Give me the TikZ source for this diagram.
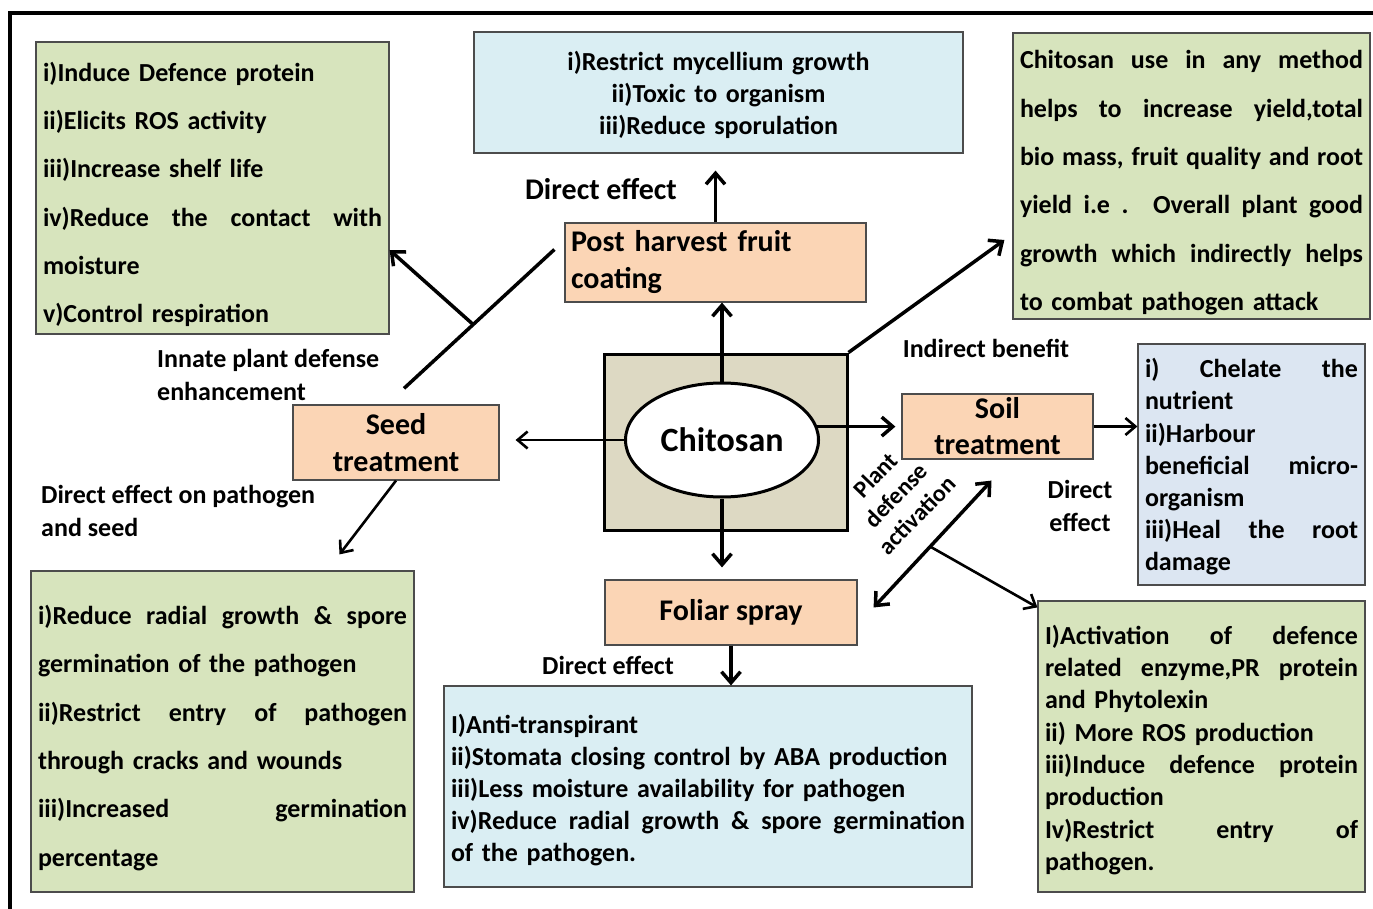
\documentclass[tikz,border=0pt]{standalone}
\usepackage{fontspec}
\setmainfont{Carlito}
\usepackage{xcolor}
\usetikzlibrary{shapes,arrows.meta,calc,positioning}
\setlength{\parindent}{0pt}

\definecolor{leafgreen}{RGB}{215,228,189}
\definecolor{skyblue}{RGB}{218,238,243}
\definecolor{steelblue}{RGB}{220,230,242}
\definecolor{peach}{RGB}{251,213,181}
\definecolor{khaki}{RGB}{221,217,195}

\newcommand{\spreadline}[1]{\makebox[\hsize][s]{\spaceskip=0pt\xspaceskip=0pt #1}}
\newcommand{\topstrut}[1]{\rule{0pt}{#1}}

\begin{document}
\begin{tikzpicture}[
    x=1pt, y=-1pt,
    effect/.style={rectangle, draw=black!70, line width=1.2pt, inner xsep=7pt, inner ysep=0pt},
    greenbox/.style={effect, fill=leafgreen, font=\fontsize{26}{48.3}\selectfont\bfseries},
    tightgreen/.style={effect, fill=leafgreen, font=\fontsize{26}{32.3}\selectfont\bfseries},
    skybox/.style={effect, fill=skyblue, font=\fontsize{26}{32}\selectfont\bfseries},
    steelbox/.style={effect, fill=steelblue, font=\fontsize{26}{32.2}\selectfont\bfseries},
    method/.style={rectangle, draw=black!70, line width=1.2pt, fill=peach, inner sep=0pt, align=center, font=\fontsize{30}{37}\selectfont\bfseries},
    core/.style={rectangle, draw, line width=3pt, fill=khaki, minimum width=243pt, minimum height=176pt},
    hub/.style={ellipse, draw, line width=3pt, fill=white, minimum width=193pt, minimum height=114pt, inner sep=0pt, font=\fontsize{34}{40}\selectfont\bfseries},
    note/.style={inner sep=0pt, font=\fontsize{26}{33}\selectfont\bfseries},
    arrow/.style={-{Straight Barb[length=11pt,width=19pt]}, line width=3.5pt},
    thinarrow/.style={-{Straight Barb[length=10pt,width=17pt]}, line width=2.6pt},
    both/.style={{Straight Barb[length=11pt,width=19pt]}-{Straight Barb[length=11pt,width=19pt]}, line width=3.5pt},
    plainline/.style={line width=3.5pt}
]
\useasboundingbox (0,0) rectangle (1373,909);

% outer frame
\draw[line width=4pt] (10,13) rectangle (1400,940);

% Chitosan core
\node[core] (core) at (725.5,442) {};
\node[hub] (chitosan) at (722,440) {Chitosan};

% Application methods
\node[method, minimum width=301pt, minimum height=79pt, text width=289pt, align=left] (harvest) at (715.5,262.5) {Post harvest fruit\\coating};
\node[method, minimum width=206pt, minimum height=75pt] (seed) at (396,442.5) {Seed\\treatment};
\node[method, minimum width=191pt, minimum height=65pt, font=\fontsize{30}{36}\selectfont\bfseries] (soil) at (997.5,426.5) {Soil\\treatment};
\node[method, minimum width=252pt, minimum height=65pt] (foliar) at (731,612.5) {Foliar spray};

% Effect boxes
\node[greenbox, text width=339pt, minimum height=292pt] (defence) at (212.5,188) {
    \topstrut{32pt}i)Induce Defence protein\\
    ii)Elicits ROS activity\\
    iii)Increase shelf life\\
    \spreadline{iv)Reduce the contact with}\\
    moisture\\
    v)Control respiration};

\node[skybox, text width=475pt, minimum height=121pt, align=center] (fungal) at (718.5,92.5) {
    \topstrut{24pt}i)Restrict mycellium growth\\
    ii)Toxic to organism\\
    iii)Reduce sporulation};

\node[greenbox, font=\fontsize{26}{48.4}\selectfont\bfseries, text width=343pt, minimum height=286pt] (yield) at (1191.5,176) {
    \topstrut{32pt}\spreadline{Chitosan use in any method}\\
    \spreadline{helps to increase yield,total}\\
    \spreadline{bio mass, fruit quality and root}\\
    \spreadline{yield i.e . Overall plant good}\\
    \spreadline{growth which indirectly helps}\\
    to combat pathogen attack};

\node[steelbox, text width=213pt, minimum height=241pt] (nutrient) at (1251.5,464.5) {
    \topstrut{24pt}\spreadline{i) Chelate the}\\
    nutrient\\
    ii)Harbour\\
    \spreadline{beneficial micro-}\\
    organism\\
    \spreadline{iii)Heal the root}\\
    damage};

\node[skybox, text width=514pt, minimum height=201pt] (spray) at (708,786.5) {
    \topstrut{26pt}I)Anti-transpirant\\
    ii)Stomata closing control by ABA production\\
    iii)Less moisture availability for pathogen\\
    \spreadline{iv)Reduce radial growth \& spore germination}\\
    of the pathogen.};

\node[greenbox, text width=369pt, minimum height=321pt] (seedfx) at (222.5,731.5) {
    \topstrut{32pt}\spreadline{i)Reduce radial growth \& spore}\\
    germination of the pathogen\\
    \spreadline{ii)Restrict entry of pathogen}\\
    through cracks and wounds\\
    \spreadline{iii)Increased germination}\\
    percentage};

\node[tightgreen, text width=313pt, minimum height=291pt] (resist) at (1201.5,746.5) {
    \topstrut{26pt}\spreadline{I)Activation of defence}\\
    \spreadline{related enzyme,PR protein}\\
    and Phytolexin\\
    ii) More ROS production\\
    \spreadline{iii)Induce defence protein}\\
    production\\
    \spreadline{Iv)Restrict entry of}\\
    pathogen.};

% Labels
\node[note, font=\fontsize{30}{36}\selectfont\bfseries] (direct-top) at (601,189) {Direct effect};
\node[note, align=left, anchor=west] (innate) at (157,375) {Innate plant defense\\enhancement};
\node[note] (indirect) at (986,348) {Indirect benefit};
\node[note, align=left, anchor=west] (pathogen) at (41,511) {Direct effect on pathogen\\and seed};
\node[note, align=center] (direct-soil) at (1080,506) {Direct\\effect};
\node[note] (direct-spray) at (608,665) {Direct effect};
\node[note, align=center, rotate=46, font=\fontsize{24}{29}\selectfont\bfseries] (activation) at (896,495) {Plant\\defense\\activation};

% Arrows from chitosan
\draw[arrow] (chitosan.north) -- (chitosan.north |- harvest.south);
\draw[arrow, shorten >=17pt] (harvest.north) -- (harvest.north |- fungal.south);
\draw[thinarrow, shorten >=16pt] (chitosan.west) -- (chitosan.west -| seed.east);
\draw[arrow, shorten >=6pt] (chitosan.8) -- (chitosan.8 -| soil.west);
\draw[arrow, shorten >=12pt] (chitosan.south) -- (chitosan.south |- foliar.north);
\draw[arrow] (foliar.south) -- (foliar.south |- spray.north);
\draw[thinarrow] (soil.east) -- (soil.east -| nutrient.west);
\draw[arrow] (core.north east) -- ($(yield.west)+(-8,64)$);

% Innate defense branch
\coordinate (innate-start) at ($(seed.north)+(8,-16)$);
\coordinate (innate-end) at ($(harvest.west)+(-10,-13)$);
\draw[plainline] (innate-start) -- coordinate[pos=0.46] (innate-fork) (innate-end);
\draw[arrow] (innate-fork) -- ($(defence.east)+(0,62)$);

% Seed effects
\draw[thinarrow] (seed.south) -- ($(seedfx.north)+(117,-16)$);

% Plant defense activation
\coordinate (soil-tip) at ($(soil.south)+(-6,21)$);
\coordinate (foliar-tip) at ($(foliar.east)+(16,-5)$);
\draw[both] (soil-tip) -- coordinate[pos=0.52] (defense-fork) (foliar-tip);
\draw[thinarrow] (defense-fork) -- ($(resist.north west)+(0,7)$);

\end{tikzpicture}
\end{document}
